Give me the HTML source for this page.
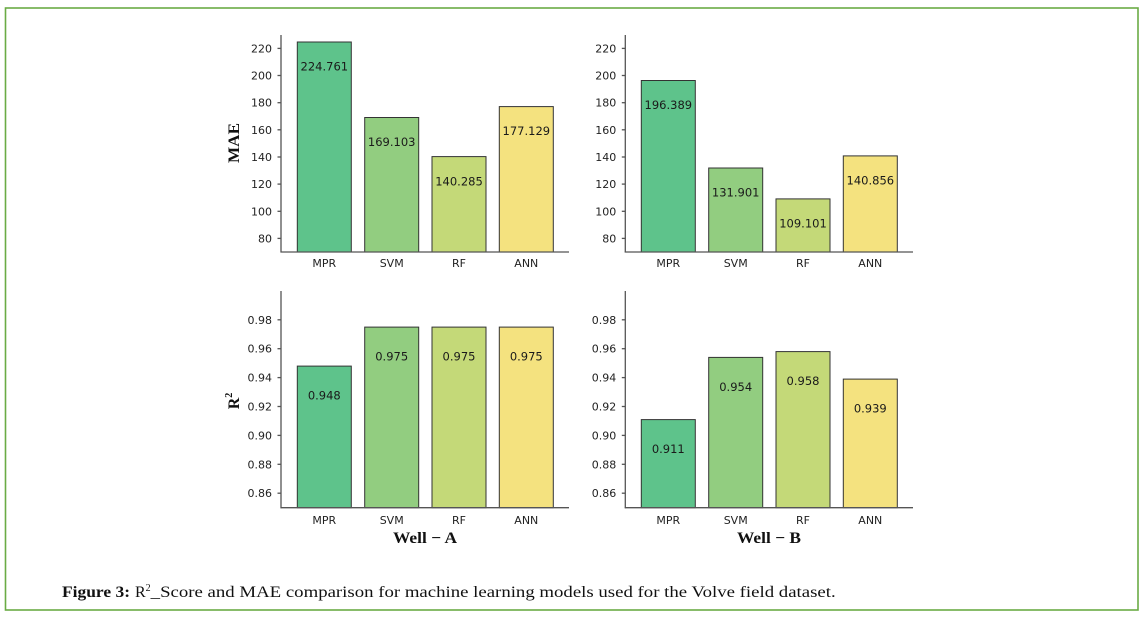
<!DOCTYPE html>
<html><head><meta charset="utf-8"><style>
html,body{margin:0;padding:0;background:#fff;}
svg{display:block;}
.tk{font-family:"DejaVu Sans","Liberation Sans",sans-serif;font-size:11px;fill:#222;}
.bl{font-family:"DejaVu Sans","Liberation Sans",sans-serif;font-size:11.5px;fill:#1a1a1a;text-anchor:middle;}
.ax{font-family:"Liberation Serif",serif;font-weight:bold;font-size:16px;fill:#111;}
.cap{font-family:"Liberation Serif",serif;font-size:16px;fill:#111;}
</style></head><body>
<svg width="1144" height="619" viewBox="0 0 1144 619" xmlns="http://www.w3.org/2000/svg">
<rect x="5.5" y="8" width="1132.5" height="602" fill="none" stroke="#6aab45" stroke-width="1.6"/>

<!-- Top-left MAE Well A -->
<g stroke="#333" stroke-width="1">
<rect x="297.3" y="42" width="54" height="210" fill="#5ec38b"/>
<rect x="364.7" y="117.5" width="54" height="134.5" fill="#92cd80"/>
<rect x="432" y="156.6" width="54" height="95.4" fill="#c4d978"/>
<rect x="499.3" y="106.6" width="54" height="145.4" fill="#f4e27f"/>
</g>
<g class="bl">
<text x="324.3" y="70.5">224.761</text>
<text x="391.7" y="146">169.103</text>
<text x="459" y="185.5">140.285</text>
<text x="526.3" y="135">177.129</text>
</g>
<g stroke="#555" stroke-width="1.3">
<line x1="281" y1="35" x2="281" y2="252.5"/>
<line x1="280.5" y1="252" x2="569" y2="252"/>
<line x1="277.5" y1="48.4" x2="281" y2="48.4"/><line x1="277.5" y1="75.5" x2="281" y2="75.5"/><line x1="277.5" y1="102.7" x2="281" y2="102.7"/><line x1="277.5" y1="129.8" x2="281" y2="129.8"/><line x1="277.5" y1="157" x2="281" y2="157"/><line x1="277.5" y1="184.1" x2="281" y2="184.1"/><line x1="277.5" y1="211.3" x2="281" y2="211.3"/><line x1="277.5" y1="238.4" x2="281" y2="238.4"/>
</g>
<g class="tk" text-anchor="end">
<text x="272" y="52.4">220</text><text x="272" y="79.5">200</text><text x="272" y="106.7">180</text><text x="272" y="133.8">160</text><text x="272" y="161">140</text><text x="272" y="188.1">120</text><text x="272" y="215.3">100</text><text x="272" y="242.4">80</text>
</g>
<g class="tk" text-anchor="middle">
<text x="324.3" y="267">MPR</text><text x="391.7" y="267">SVM</text><text x="459" y="267">RF</text><text x="526.3" y="267">ANN</text>
</g>
<text class="ax" transform="translate(239,143) rotate(-90)" text-anchor="middle" textLength="40" lengthAdjust="spacingAndGlyphs">MAE</text>

<!-- Top-right MAE Well B -->
<g stroke="#333" stroke-width="1">
<rect x="641.3" y="80.5" width="54" height="171.5" fill="#5ec38b"/>
<rect x="708.7" y="168" width="54" height="84" fill="#92cd80"/>
<rect x="776" y="198.9" width="54" height="53.1" fill="#c4d978"/>
<rect x="843.3" y="155.9" width="54" height="96.1" fill="#f4e27f"/>
</g>
<g class="bl">
<text x="668.3" y="109">196.389</text>
<text x="735.7" y="196.5">131.901</text>
<text x="803" y="227.5">109.101</text>
<text x="870.3" y="184.5">140.856</text>
</g>
<g stroke="#555" stroke-width="1.3">
<line x1="625.3" y1="35" x2="625.3" y2="252.5"/>
<line x1="624.8" y1="252" x2="913" y2="252"/>
<line x1="621.8" y1="48.4" x2="625.3" y2="48.4"/><line x1="621.8" y1="75.5" x2="625.3" y2="75.5"/><line x1="621.8" y1="102.7" x2="625.3" y2="102.7"/><line x1="621.8" y1="129.8" x2="625.3" y2="129.8"/><line x1="621.8" y1="157" x2="625.3" y2="157"/><line x1="621.8" y1="184.1" x2="625.3" y2="184.1"/><line x1="621.8" y1="211.3" x2="625.3" y2="211.3"/><line x1="621.8" y1="238.4" x2="625.3" y2="238.4"/>
</g>
<g class="tk" text-anchor="end">
<text x="616.3" y="52.4">220</text><text x="616.3" y="79.5">200</text><text x="616.3" y="106.7">180</text><text x="616.3" y="133.8">160</text><text x="616.3" y="161">140</text><text x="616.3" y="188.1">120</text><text x="616.3" y="215.3">100</text><text x="616.3" y="242.4">80</text>
</g>
<g class="tk" text-anchor="middle">
<text x="668.3" y="267">MPR</text><text x="735.7" y="267">SVM</text><text x="803" y="267">RF</text><text x="870.3" y="267">ANN</text>
</g>

<!-- Bottom-left R2 Well A -->
<g stroke="#333" stroke-width="1">
<rect x="297.3" y="366.1" width="54" height="141.6" fill="#5ec38b"/>
<rect x="364.7" y="327.1" width="54" height="180.6" fill="#92cd80"/>
<rect x="432" y="327.1" width="54" height="180.6" fill="#c4d978"/>
<rect x="499.3" y="327.1" width="54" height="180.6" fill="#f4e27f"/>
</g>
<g class="bl">
<text x="324.3" y="399.7">0.948</text>
<text x="391.7" y="360.5">0.975</text>
<text x="459" y="360.5">0.975</text>
<text x="526.3" y="360.5">0.975</text>
</g>
<g stroke="#555" stroke-width="1.3">
<line x1="281" y1="291" x2="281" y2="508.2"/>
<line x1="280.5" y1="507.7" x2="569" y2="507.7"/>
<line x1="277.5" y1="319.8" x2="281" y2="319.8"/><line x1="277.5" y1="348.7" x2="281" y2="348.7"/><line x1="277.5" y1="377.6" x2="281" y2="377.6"/><line x1="277.5" y1="406.5" x2="281" y2="406.5"/><line x1="277.5" y1="435.4" x2="281" y2="435.4"/><line x1="277.5" y1="464.3" x2="281" y2="464.3"/><line x1="277.5" y1="493.2" x2="281" y2="493.2"/>
</g>
<g class="tk" text-anchor="end">
<text x="272" y="323.8">0.98</text><text x="272" y="352.7">0.96</text><text x="272" y="381.6">0.94</text><text x="272" y="410.5">0.92</text><text x="272" y="439.4">0.90</text><text x="272" y="468.3">0.88</text><text x="272" y="497.2">0.86</text>
</g>
<g class="tk" text-anchor="middle">
<text x="324.3" y="524">MPR</text><text x="391.7" y="524">SVM</text><text x="459" y="524">RF</text><text x="526.3" y="524">ANN</text>
</g>
<text class="ax" transform="translate(239,401) rotate(-90)" text-anchor="middle">R<tspan font-size="10" dy="-7">2</tspan></text>
<text class="ax" x="425" y="543" text-anchor="middle" textLength="64" lengthAdjust="spacingAndGlyphs">Well − A</text>

<!-- Bottom-right R2 Well B -->
<g stroke="#333" stroke-width="1">
<rect x="641.3" y="419.6" width="54" height="88.1" fill="#5ec38b"/>
<rect x="708.7" y="357.4" width="54" height="150.3" fill="#92cd80"/>
<rect x="776" y="351.6" width="54" height="156.1" fill="#c4d978"/>
<rect x="843.3" y="379.1" width="54" height="128.6" fill="#f4e27f"/>
</g>
<g class="bl">
<text x="668.3" y="453">0.911</text>
<text x="735.7" y="391">0.954</text>
<text x="803" y="385">0.958</text>
<text x="870.3" y="412.5">0.939</text>
</g>
<g stroke="#555" stroke-width="1.3">
<line x1="625.3" y1="291" x2="625.3" y2="508.2"/>
<line x1="624.8" y1="507.7" x2="913" y2="507.7"/>
<line x1="621.8" y1="319.8" x2="625.3" y2="319.8"/><line x1="621.8" y1="348.7" x2="625.3" y2="348.7"/><line x1="621.8" y1="377.6" x2="625.3" y2="377.6"/><line x1="621.8" y1="406.5" x2="625.3" y2="406.5"/><line x1="621.8" y1="435.4" x2="625.3" y2="435.4"/><line x1="621.8" y1="464.3" x2="625.3" y2="464.3"/><line x1="621.8" y1="493.2" x2="625.3" y2="493.2"/>
</g>
<g class="tk" text-anchor="end">
<text x="616.3" y="323.8">0.98</text><text x="616.3" y="352.7">0.96</text><text x="616.3" y="381.6">0.94</text><text x="616.3" y="410.5">0.92</text><text x="616.3" y="439.4">0.90</text><text x="616.3" y="468.3">0.88</text><text x="616.3" y="497.2">0.86</text>
</g>
<g class="tk" text-anchor="middle">
<text x="668.3" y="524">MPR</text><text x="735.7" y="524">SVM</text><text x="803" y="524">RF</text><text x="870.3" y="524">ANN</text>
</g>
<text class="ax" x="769" y="543" text-anchor="middle" textLength="64" lengthAdjust="spacingAndGlyphs">Well − B</text>

<!-- Caption -->
<text class="cap" x="62" y="597" font-weight="bold" textLength="68" lengthAdjust="spacingAndGlyphs">Figure 3:</text>
<text class="cap" x="135" y="597">R<tspan font-size="10" dy="-6">2</tspan><tspan dy="6" textLength="685" lengthAdjust="spacingAndGlyphs">_Score and MAE comparison for machine learning models used for the Volve field dataset.</tspan></text>
</svg>
</body></html>
